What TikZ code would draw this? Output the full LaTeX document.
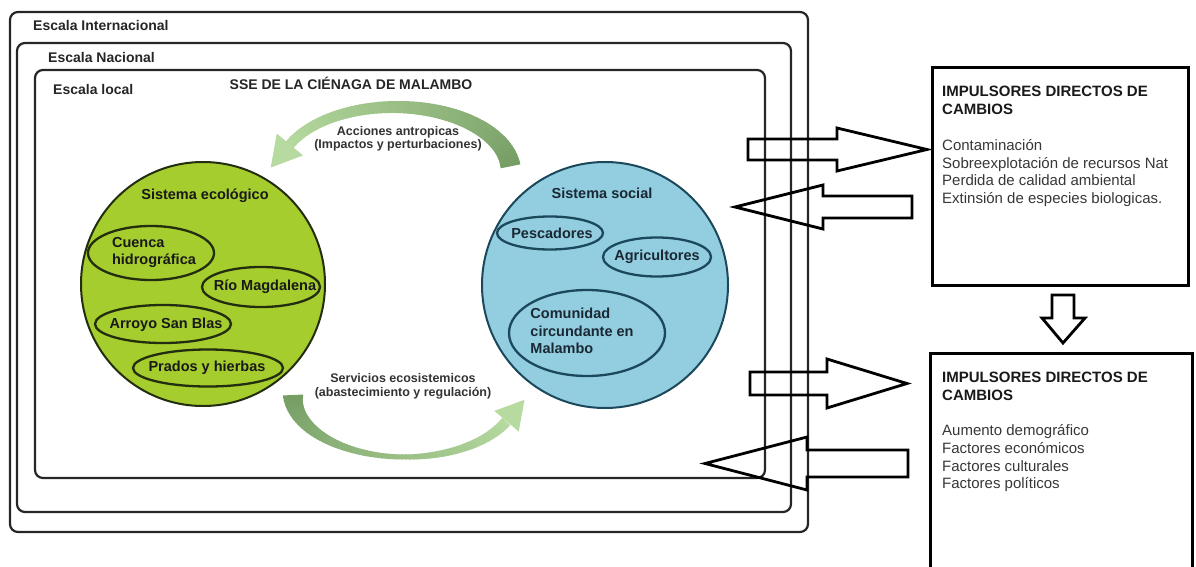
\documentclass[tikz,border=0pt]{standalone}
\usepackage{fontspec}
\setmainfont{Liberation Sans}
\usetikzlibrary{shapes.geometric}
\definecolor{ecoFill}{RGB}{165,205,45}
\definecolor{ecoLine}{RGB}{35,45,15}
\definecolor{socFill}{RGB}{146,206,224}
\definecolor{socLine}{RGB}{28,72,92}
\definecolor{socText}{RGB}{26,40,52}
\definecolor{arcDark}{RGB}{118,158,100}
\definecolor{arcLight}{RGB}{182,218,160}
\definecolor{bodyText}{RGB}{55,55,55}
\begin{document}
\begin{tikzpicture}[x=1pt,y=-1pt,
  nestbox/.style={draw=black!85, line width=2.2pt, rounded corners=8pt},
  nestlabel/.style={font=\fontsize{14}{16}\selectfont\bfseries, text=black!85, anchor=base west, inner sep=0pt},
  ecoell/.style={ellipse, draw=ecoLine, line width=2.3pt, inner sep=0pt},
  socell/.style={ellipse, draw=socLine, line width=2.3pt, inner sep=0pt},
  ecotext/.style={font=\fontsize{14.5}{17}\selectfont\bfseries, text=black!90, inner sep=0pt, align=left},
  soctext/.style={font=\fontsize{14.5}{17.5}\selectfont\bfseries, text=socText, inner sep=0pt, align=left},
  arclabel/.style={font=\fontsize{12.5}{12.5}\selectfont\bfseries, text=black!80, inner sep=0pt, align=center},
  drvbox/.style={draw=black, line width=3pt, inner sep=0pt},
  drvtitle/.style={font=\fontsize{15}{17.7}\selectfont\bfseries, text=black!90, anchor=base west, inner sep=0pt},
  drvitem/.style={font=\fontsize{15}{17.7}\selectfont, text=bodyText, anchor=base west, inner sep=0pt},
  blockarrow/.style={draw=black, line width=2.8pt, line join=miter},
  arcseg/.style={line cap=butt}
]
\useasboundingbox (0,0) rectangle (1196,567);
\clip (0,0) rectangle (1196,567);

% nested scale boxes
\draw[nestbox] (10,12) rectangle (808,532);
\draw[nestbox] (17,43) rectangle (791,512);
\draw[nestbox] (35,70) rectangle (765,478);
\node[nestlabel] (lint) at (33,31) {Escala Internacional};
\node[nestlabel] (lnac) at (48,63) {Escala Nacional};
\node[nestlabel] (lloc) at (53,95) {Escala local};
\node[font=\fontsize{14}{16}\selectfont\bfseries, text=black!85, anchor=base, inner sep=0pt] (sse) at (351,90) {SSE DE LA CIÉNAGA DE MALAMBO};

% circles
\node[circle, draw=ecoLine, line width=2pt, fill=ecoFill, minimum size=244pt, inner sep=0pt] (eco) at (203,284) {};
\node[circle, draw=socLine, line width=2pt, fill=socFill, minimum size=246pt, inner sep=0pt] (soc) at (605,285) {};

\node[ecotext] (ecot) at (205,196) {Sistema ecológico};
\node[ecoell, minimum width=126pt, minimum height=54pt] (cuenca) at (151,253) {};
\node[ecotext] (cuencat) at (154,252) {Cuenca\\hidrográfica};
\node[ecoell, minimum width=118pt, minimum height=40pt] (rio) at (261,287) {};
\node[ecotext] (riot) at (265,287) {Río Magdalena};
\node[ecoell, minimum width=136pt, minimum height=38pt] (arroyo) at (163,324) {};
\node[ecotext] (arroyot) at (166,325) {Arroyo San Blas};
\node[ecoell, minimum width=150pt, minimum height=37pt] (prados) at (208,368) {};
\node[ecotext] (pradost) at (207,368) {Prados y hierbas};

\node[soctext] (soct) at (602,193) {Sistema social};
\node[socell, minimum width=106pt, minimum height=33pt] (pesc) at (550,233) {};
\node[soctext] (pesct) at (552,233) {Pescadores};
\node[socell, minimum width=108pt, minimum height=39pt] (agri) at (657,257) {};
\node[soctext] (agrit) at (657,257) {Agricultores};
\node[socell, minimum width=156pt, minimum height=86pt] (com) at (587,333) {};
\node[soctext] (comt) at (582,331) {Comunidad\\circundante en\\Malambo};

% top curved arrow (acciones antropicas), from right to left
\foreach \t in {5,7,...,153} {
  \pgfmathsetmacro\w{10+10*((155-\t)/150)^2}
  \pgfmathsetmacro\m{100*(\t-5)/150}
  \draw[arcseg, line width=\w pt, color=arcLight!\m!arcDark]
    ({395+116*cos(\t)},{172-65*sin(\t)}) -- ({395+116*cos(\t+2.7)},{172-65*sin(\t+2.7)});
}
\coordinate (tA) at (303.0,155.4);
\coordinate (tB) at (276.8,133.6);
\coordinate (tTip) at (270.7,167.6);
\fill[arcLight] (tA) -- (tTip) -- (tB) -- cycle;
\node[arclabel] (acc) at (398,139) {Acciones antropicas\\(Impactos y perturbaciones)};

% bottom curved arrow (servicios), from left to right
\foreach \t in {180,178,...,27} {
  \pgfmathsetmacro\w{\t>=90 ? 5+15*((\t-90)/90)^2 : 5+6*(90-\t)/65}
  \pgfmathsetmacro\m{100*(180-\t)/155}
  \draw[arcseg, line width=\w pt, color=arcLight!\m!arcDark]
    ({405+112*cos(\t)},{395+62*sin(\t)}) -- ({405+112*cos(\t-2.7)},{395+62*sin(\t-2.7)});
}
\coordinate (bA) at (518.7,431.5);
\coordinate (bB) at (494.3,410.9);
\coordinate (bTip) at (524.5,399.8);
\fill[arcLight] (bA) -- (bTip) -- (bB) -- cycle;
\node[arclabel, font=\fontsize{12.5}{14}\selectfont\bfseries] (serv) at (403,386) {Servicios ecosistemicos\\(abastecimiento y regulación)};

% driver boxes
\node[drvbox, minimum width=256pt, minimum height=217pt] (d1) at (1060,176.5) {};
\node[drvtitle] (d1t1) at (942,97) {IMPULSORES DIRECTOS DE};
\node[drvtitle] (d1t2) at (942,114.5) {CAMBIOS};
\node[drvitem] (d1i1) at (942,150) {Contaminación};
\node[drvitem] (d1i2) at (942,168) {Sobreexplotación de recursos Nat};
\node[drvitem] (d1i3) at (942,185.5) {Perdida de calidad ambiental};
\node[drvitem] (d1i4) at (942,203.5) {Extinsión de especies biologicas.};

\node[drvbox, minimum width=262pt, minimum height=222pt] (d2) at (1061,464) {};
\node[drvtitle] (d2t1) at (942,382.5) {IMPULSORES DIRECTOS DE};
\node[drvtitle] (d2t2) at (942,400.5) {CAMBIOS};
\node[drvitem] (d2i1) at (942,435.5) {Aumento demográfico};
\node[drvitem] (d2i2) at (942,453.5) {Factores económicos};
\node[drvitem] (d2i3) at (942,471.5) {Factores culturales};
\node[drvitem] (d2i4) at (942,488.5) {Factores políticos};

% block arrows
\draw[blockarrow] (748,139) -- (837,139) -- (837,128) -- (927,149.5) -- (837,171) -- (837,160) -- (748,160) -- cycle;
\draw[blockarrow] (912,196) -- (823,196) -- (823,185) -- (735,207) -- (823,229) -- (823,218) -- (912,218) -- cycle;
\draw[blockarrow] (1052,295) -- (1052,318) -- (1042,318) -- (1063,343) -- (1085,318) -- (1074,318) -- (1074,295) -- cycle;
\draw[blockarrow] (750,372) -- (827,372) -- (827,359) -- (907,383.5) -- (827,408) -- (827,395) -- (750,395) -- cycle;
\draw[blockarrow] (908,450) -- (807,450) -- (807,437) -- (705,463.5) -- (807,490) -- (807,477) -- (908,477) -- cycle;
\end{tikzpicture}
\end{document}
